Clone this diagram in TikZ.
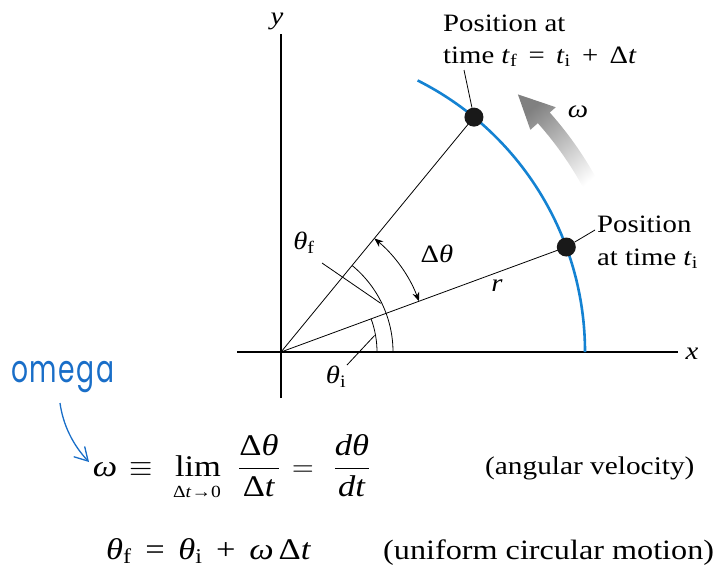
\documentclass[tikz,border=0pt]{standalone}
\usepackage{fix-cm}
\usepackage{amsmath}
\usepackage{fontspec}
\setmainfont{Liberation Serif}[FakeStretch=1.15]
\newfontfamily\hand{Poppins}[FakeStretch=0.7, LetterSpace=4]
\usetikzlibrary{arrows.meta,calc}
\definecolor{arcblue}{RGB}{20,130,210}
\definecolor{penblue}{RGB}{25,110,200}
\newcommand\sub[1]{\textsubscript{\textup{#1}}}
\begin{document}
\begin{tikzpicture}[x=1pt,y=1pt,
  axis/.style={line width=2.4pt,black},
  thinl/.style={line width=0.8pt,black},
  lbl/.style={inner sep=0pt,font=\fontsize{25}{29}\selectfont},
  eqs/.style={inner sep=0pt,font=\fontsize{30}{34}\selectfont},
  dotp/.style={circle,fill=black!90,inner sep=0pt,minimum size=19pt}]
\useasboundingbox (0,0) rectangle (725,-574);
\coordinate (O) at (281,-352);
% axes
\coordinate (xl) at (237,-352);
\coordinate (xr) at (678,-352);
\coordinate (yt) at (281,-34);
\coordinate (yb) at (281,-398);
\draw[axis] (xl) -- (xr);
\draw[axis] (yb) -- (yt);
\node[lbl,anchor=base] (xlab) at (692,-359) {\textit{x}};
\node[lbl,anchor=base] (ylab) at (277,-24) {\textit{y}};
\begin{scope}[shift={(O)}]
  % gray curved arrow
  \shade[top color=black!50, bottom color=white, shading angle=40]
    (27:344) arc[start angle=27,end angle=41.7,radius=344]
    -- (41.7:334) -- (47.4:350) -- (41.7:368) -- (41.7:360)
    arc[start angle=41.7,end angle=27,radius=360] -- cycle;
  % circle arc
  \draw[arcblue,line width=2.6pt] (0:304) arc[start angle=0,end angle=63.3,radius=304];
  \coordinate (Pi) at (20.2:304);
  \coordinate (Pf) at (50.6:304);
  % angle arcs
  \draw[thinl] (0:96) arc[start angle=0,end angle=20.2,radius=96];
  \draw[thinl] (0:112) arc[start angle=0,end angle=50.6,radius=112];
  \draw[thinl,{Stealth[length=9pt,width=7pt]}-{Stealth[length=9pt,width=7pt]}]
    (20.2:147) arc[start angle=20.2,end angle=50.6,radius=147];
  \coordinate (thfend) at (26:111);
  \coordinate (thiend) at (10:95);
\end{scope}
\draw[thinl] (O) -- (Pi);
\draw[thinl] (O) -- (Pf);
\node[dotp] (di) at (Pi) {};
\node[dotp] (df) at (Pf) {};
% labels
\node[lbl,anchor=base west] (lf1) at (443,-31) {Position at};
\node[lbl,anchor=base west] (lf2) at (443,-63) {time \textit{t}\sub{f}\, =\, \textit{t}\sub{i}\, +\, Δ\textit{t}};
\coordinate (lfa) at (464,-70);
\draw[thinl] (lfa) -- (df);
\node[lbl,anchor=base west] (li1) at (597,-232) {Position};
\node[lbl,anchor=base west] (li2) at (597,-265) {at time \textit{t}\sub{i}};
\coordinate (lia) at (595,-230);
\draw[thinl] (lia) -- (di);
\node[lbl] (om) at (578,-112) {\textit{ω}};
\node[lbl] (dth) at (437,-254) {Δ\textit{θ}};
\node[lbl] (rl) at (497,-286) {\textit{r}};
\node[lbl] (thf) at (304,-243) {\textit{θ}\sub{f}};
\node[lbl] (thi) at (336,-377) {\textit{θ}\sub{i}};
\coordinate (thfa) at (322,-263);
\coordinate (thia) at (347,-365);
\draw[thinl] (thfa) -- (thfend);
\draw[thinl] (thia) -- (thiend);
% equation 1
\node[eqs,anchor=base] (e1om) at (105,-476) {\textit{ω}};
\node[eqs,anchor=base] (e1eq) at (141,-476) {$\equiv$};
\node[eqs,anchor=base] (e1lim) at (198,-476) {lim};
\node[inner sep=0pt,anchor=base,font=\fontsize{17}{19}\selectfont] (e1sub) at (197,-497) {Δ\textit{t}→0};
\node[eqs,anchor=base] (e1f1) at (259,-476) {$\dfrac{\text{Δ\textit{θ}}}{\text{Δ\textit{t}}}$};
\node[eqs,anchor=base] (e1is) at (303,-476) {$=$};
\node[eqs,anchor=base] (e1f2) at (352,-476) {$\dfrac{\text{\textit{dθ}}}{\text{\textit{dt}}}$};
\node[inner sep=0pt,anchor=base west,font=\fontsize{25.5}{29}\selectfont] (eq1r) at (485,-474) {(angular velocity)};
% equation 2
\node[eqs,anchor=base west] (eq2) at (106,-559) {\textit{θ}\sub{f}\, =\, \textit{θ}\sub{i}\, +\, \textit{ω}\,Δ\textit{t}};
\node[inner sep=0pt,anchor=base west,font=\fontsize{28}{32}\selectfont] (eq2r) at (383,-559) {(uniform circular motion)};
% handwriting
\node[anchor=base west,inner sep=0pt,text=penblue,font=\hand\fontsize{38}{42}\selectfont] (hw) at (11,-382) {omega};
\coordinate (hs) at (60,-403);
\coordinate (he) at (89,-462);
\draw[penblue,line width=1.3pt,-{Straight Barb[length=13pt,width=15pt]}] (hs) .. controls (63,-425) and (73,-445) .. (he);
\end{tikzpicture}
\end{document}
